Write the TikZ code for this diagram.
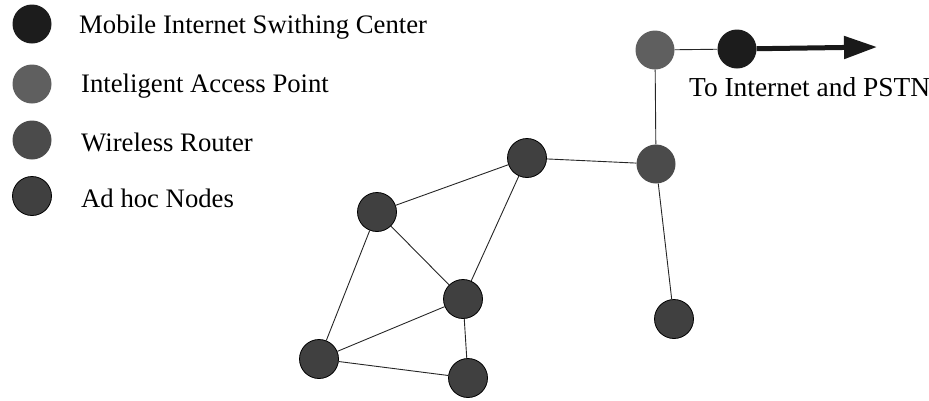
\documentclass[tikz,border=0pt]{standalone}
\usepackage{fontspec}
\setmainfont{Liberation Serif}
\usetikzlibrary{arrows.meta}
\definecolor{misc}{HTML}{1C1C1C}
\definecolor{iap}{HTML}{5F5F5F}
\definecolor{wr}{HTML}{4B4B4B}
\definecolor{adhoc}{HTML}{404040}
\tikzset{
  dot/.style={circle, inner sep=0pt, minimum size=39pt},
  miscdot/.style={dot, fill=misc},
  iapdot/.style={dot, fill=iap},
  wrdot/.style={dot, fill=wr},
  adhocdot/.style={dot, fill=adhoc, draw=black, line width=0.8pt},
  link/.style={draw=black!85, line width=0.9pt},
  lbl/.style={anchor=base west, inner sep=0pt, font=\fontsize{26.7}{30}\selectfont},
}
\begin{document}
\begin{tikzpicture}[x=1pt,y=-1pt]
\useasboundingbox (0,0) rectangle (929,400);
% connectors first, nodes on top
\coordinate (iapc) at (655,50);
\coordinate (miscc) at (737,49);
\coordinate (tip) at (877,47);
% legend
\node[miscdot] (l1) at (32,24) {};
\node[iapdot] (l2) at (32,84) {};
\node[wrdot] (l3) at (32,140) {};
\node[adhocdot] (l4) at (32,196) {};
\node[lbl] (t1) at (79,33) {Mobile Internet Swithing Center};
\node[lbl] (t2) at (81,92) {Inteligent Access Point};
\node[lbl] (t3) at (81,151) {Wireless Router};
\node[lbl] (t4) at (81,207) {Ad hoc Nodes};
% network
\node[iapdot] (iap) at (iapc) {};
\node[miscdot] (misc) at (miscc) {};
\node[wrdot] (wr) at (656,164) {};
\node[adhocdot] (a1) at (527,158) {};
\node[adhocdot] (a2) at (377,212) {};
\node[adhocdot] (a3) at (463,299) {};
\node[adhocdot] (a4) at (319,359) {};
\node[adhocdot] (a5) at (468,378) {};
\node[adhocdot] (a6) at (674,319) {};
\node[lbl, font=\fontsize{27.4}{30}\selectfont] (pstn) at (689,96) {To Internet and PSTN};
\path[link] (iap) -- (misc);
\path[link] (iap) -- (wr);
\path[link] (wr) -- (a1);
\path[link] (wr) -- (a6);
\path[link] (a1) -- (a2);
\path[link] (a1) -- (a3);
\path[link] (a2) -- (a3);
\path[link] (a2) -- (a4);
\path[link] (a3) -- (a4);
\path[link] (a3) -- (a5);
\path[link] (a4) -- (a5);
\draw[line width=5pt, -{Triangle[length=33pt,width=22pt]}, draw=black!90, fill=black!90] (misc) -- (tip);
\end{tikzpicture}
\end{document}
